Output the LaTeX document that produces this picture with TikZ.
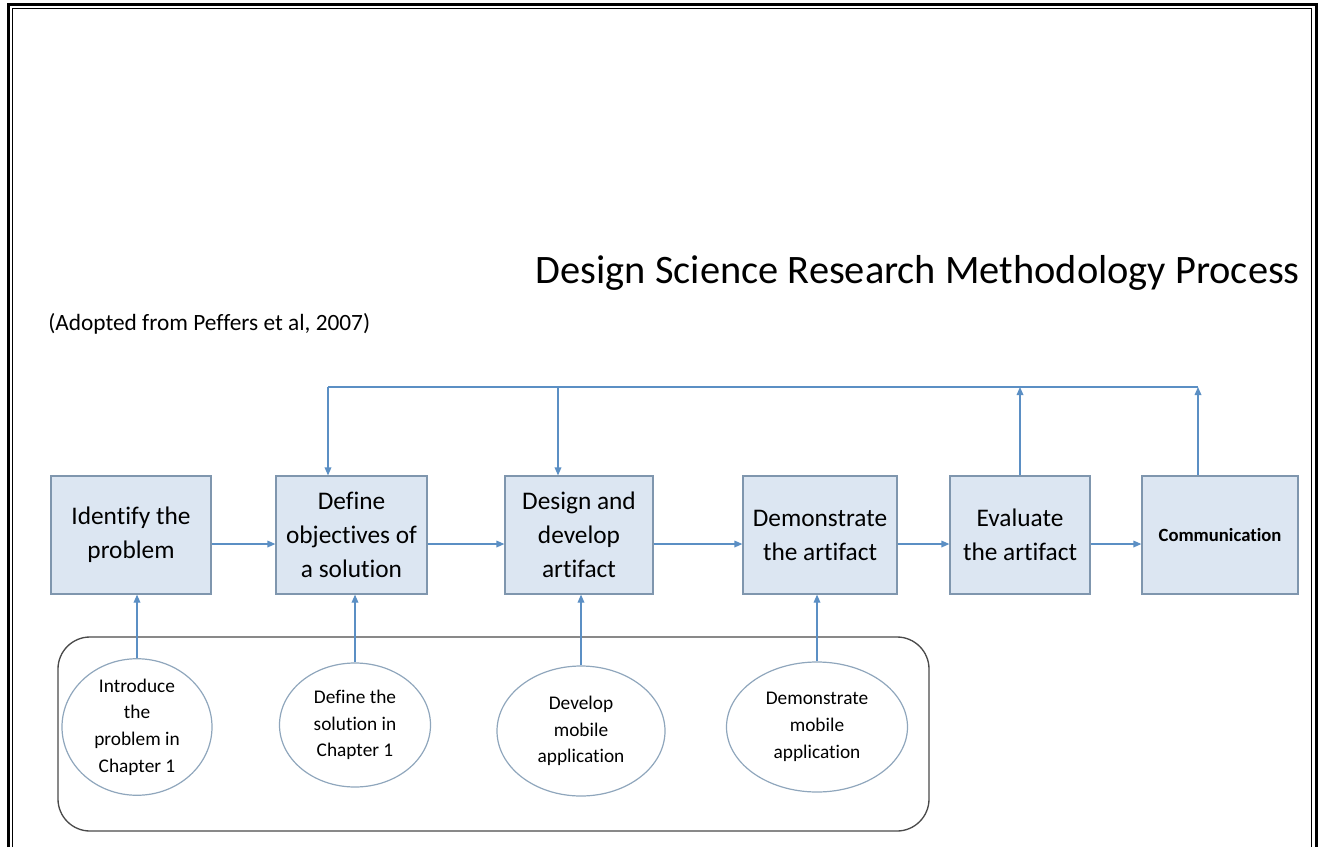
\documentclass[tikz,border=0pt]{standalone}
\usepackage{fontspec}
\setmainfont{Carlito}[Ligatures=NoCommon]
\usetikzlibrary{arrows.meta,shapes.geometric}

\definecolor{boxfill}{HTML}{DCE6F2}
\definecolor{boxline}{HTML}{7F96AE}
\definecolor{flowblue}{HTML}{5B8FC4}
\definecolor{ovalline}{HTML}{8FA6BC}
\definecolor{groupline}{HTML}{4A4A4A}

\begin{document}
\begin{tikzpicture}[x=0.75pt,y=-0.75pt,
    stage/.style={draw=boxline, fill=boxfill, line width=0.9pt, inner sep=2pt,
      align=center, font=\fontsize{19}{25.5}\selectfont, text=black},
    task/.style={draw=ovalline, ellipse, line width=0.9pt, inner sep=0pt,
      align=center, font=\fontsize{14.5}{20}\selectfont, text=black},
    flow/.style={draw=flowblue, line width=0.9pt, -{Triangle[length=6pt,width=5pt]}},
    fbline/.style={draw=flowblue, line width=0.9pt}]
\useasboundingbox (0,0) rectangle (1325,847);

% double frame, open at the bottom
\draw[line width=2.4pt] (8.5,847) -- (8.5,4.5) -- (1316.5,4.5) -- (1316.5,847);
\draw[line width=0.9pt] (12.5,847) -- (12.5,8.5) -- (1311.5,8.5) -- (1311.5,847);

% headings
\node[anchor=base east, inner sep=0pt, font=\fontsize{30.3}{36}\selectfont] (title) at (1300,283)
  {Design Science Research Methodology Process};
\node[anchor=base west, inner sep=0pt, font=\fontsize{17.5}{21}\selectfont] (source) at (48,330)
  {(Adopted from Peffers et al, 2007)};

% the six process stages
\node[stage, minimum width=160*0.75pt, minimum height=118*0.75pt] (idf) at (131,535) {Identify the\\problem};
\node[stage, minimum width=151*0.75pt, minimum height=118*0.75pt] (def) at (351.5,535) {Define\\objectives of\\a solution};
\node[stage, minimum width=148*0.75pt, minimum height=118*0.75pt] (dsn) at (579,535) {Design and\\develop\\artifact};
\node[stage, minimum width=154*0.75pt, minimum height=118*0.75pt] (dem) at (820,535) {Demonstrate\\the artifact};
\node[stage, minimum width=140*0.75pt, minimum height=118*0.75pt] (evl) at (1020,535) {Evaluate\\the artifact};
\node[stage, minimum width=156*0.75pt, minimum height=118*0.75pt,
  font=\fontsize{14}{17}\selectfont\bfseries] (com) at (1220,535) {Communication};

% group of thesis activities
\draw[groupline, line width=1pt, rounded corners=24pt] (58,637) rectangle (929,831);
\node[task, minimum width=150*0.75pt, minimum height=125*0.75pt] (t1) at (137,727) {Introduce\\the\\problem in\\Chapter 1};
\node[task, minimum width=151*0.75pt, minimum height=124*0.75pt] (t2) at (355,725) {Define the\\solution in\\Chapter 1};
\node[task, minimum width=168*0.75pt, minimum height=130*0.75pt] (t3) at (581,731) {Develop\\mobile\\application};
\node[task, minimum width=181*0.75pt, minimum height=130*0.75pt] (t4) at (817,727) {Demonstrate\\mobile\\application};

% main sequence
\coordinate (seq) at (0,544);
\draw[flow] (idf.east |- seq) -- (def.west |- seq);
\draw[flow] (def.east |- seq) -- (dsn.west |- seq);
\draw[flow] (dsn.east |- seq) -- (dem.west |- seq);
\draw[flow] (dem.east |- seq) -- (evl.west |- seq);
\draw[flow] (evl.east |- seq) -- (com.west |- seq);

% activities feed the stages
\draw[flow] (t1.north) -- (t1.north |- idf.south);
\draw[flow] (t2.north) -- (t2.north |- def.south);
\draw[flow] (t3.north) -- (t3.north |- dsn.south);
\draw[flow] (t4.north) -- (t4.north |- dem.south);

% iteration loop
\coordinate (loopL) at (328,387);
\coordinate (loopM) at (558,387);
\coordinate (loopR) at (1198,387);
\draw[fbline] (loopL) -- (loopR);
\draw[flow] (loopL) -- (loopL |- def.north);
\draw[flow] (loopM) -- (loopM |- dsn.north);
\draw[flow] (evl.north) -- (evl.north |- loopR);
\draw[flow] (loopR |- com.north) -- (loopR);
\end{tikzpicture}
\end{document}
